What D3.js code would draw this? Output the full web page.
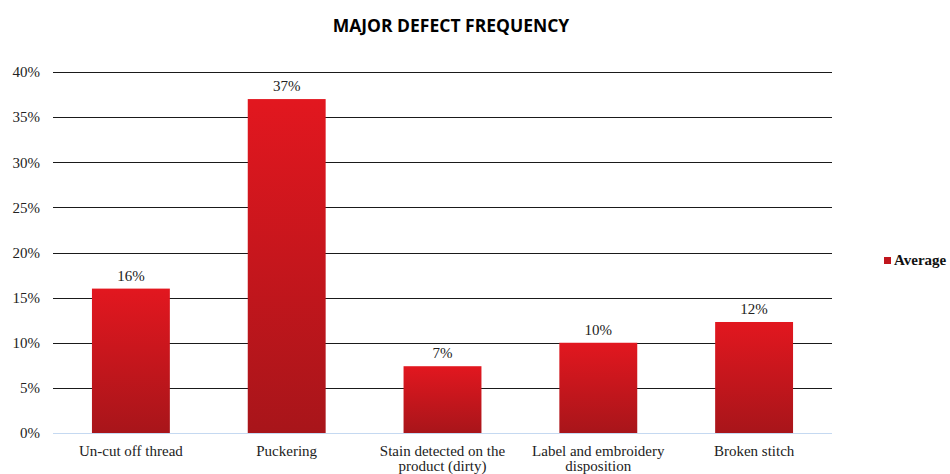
<!DOCTYPE html>
<html><head><meta charset="utf-8">
<script src="https://cdn.jsdelivr.net/npm/d3@7"></script>
<style>body{margin:0;background:#fff}svg{display:block}.serif{font-family:"Liberation Serif","DejaVu Serif",serif}</style>
</head><body><svg id="c" width="950" height="474"></svg>
<script>
const categories = [["Un-cut off thread"], ["Puckering"], ["Stain detected on the", "product (dirty)"], ["Label and embroidery", "disposition"], ["Broken stitch"]];
const values = [0.16, 0.37, 0.074, 0.10, 0.123];
const yTicks = [0, 0.05, 0.10, 0.15, 0.20, 0.25, 0.30, 0.35, 0.40];
const seriesName = "Average";
const title = "MAJOR DEFECT FREQUENCY";

const svg = d3.select("#c");
const m = {l:53, r:118, t:72, b:41};
const W = 950, H = 474;
const x = d3.scaleBand().domain(d3.range(values.length)).range([m.l, W - m.r]).paddingInner(0.5).paddingOuter(0.25);
const y = d3.scaleLinear().domain([0, 0.40]).range([H - m.b, m.t]);

const defs = svg.append("defs");
const g = defs.append("linearGradient").attr("id","bg").attr("x1",0).attr("y1",0).attr("x2",0).attr("y2",1);
g.append("stop").attr("offset","0%").attr("stop-color","#e2171f");
g.append("stop").attr("offset","100%").attr("stop-color","#a8151a");

svg.append("text").attr("x", 451).attr("y", 32).attr("text-anchor","middle")
  .style("font-family","'Open Sans', sans-serif").attr("font-weight","bold").attr("font-size",17.5)
  .attr("fill","#000").text(title);

// grid
svg.append("g").selectAll("line").data(yTicks.filter(d=>d>0)).join("line")
  .attr("x1", m.l).attr("x2", W - m.r).attr("y1", d=>Math.round(y(d))+0.5).attr("y2", d=>Math.round(y(d))+0.5)
  .attr("stroke","#1a1a1a").attr("stroke-width",1);

// y axis labels
const yAxis = d3.axisLeft(y).tickValues(yTicks).tickFormat(d3.format(".0%")).tickSize(0).tickPadding(13);
const ya = svg.append("g").attr("transform",`translate(${m.l},0)`).call(yAxis);
ya.select(".domain").remove();
ya.attr("font-family", null).attr("font-size", null);
ya.selectAll("text").attr("class","serif").style("font-size","15px").attr("fill","#222");

// bars
svg.append("g").selectAll("rect").data(values).join("rect")
  .attr("x",(d,i)=>x(i)).attr("width",x.bandwidth())
  .attr("y",d=>y(d)).attr("height",d=>y(0)-y(d)).attr("fill","url(#bg)");

// baseline
svg.append("line").attr("x1",m.l).attr("x2",W-m.r).attr("y1",y(0)+0.5).attr("y2",y(0)+0.5).attr("stroke","#c5d9f1").attr("stroke-width",1);

// value labels
svg.append("g").selectAll("text").data(values).join("text").attr("class","serif")
  .attr("x",(d,i)=>x(i)+x.bandwidth()/2).attr("y",d=>y(d)-8).attr("text-anchor","middle")
  .style("font-size","15px").attr("fill","#222")
  .text(d=>d3.format(".0%")(d));

// category labels
const cl = svg.append("g").selectAll("text").data(categories).join("text").attr("class","serif")
  .attr("x",(d,i)=>x(i)+x.bandwidth()/2).attr("y", y(0)+23).attr("text-anchor","middle")
  .style("font-size","15px").attr("fill","#222");
cl.selectAll("tspan").data(d=>d).join("tspan")
  .attr("x",function(){return this.parentNode.getAttribute("x");}).attr("dy",(d,i)=>i===0?0:15).text(d=>d);

// legend
svg.append("rect").attr("x",884).attr("y",257).attr("width",7).attr("height",7).attr("fill","#c0161d");
svg.append("text").attr("class","serif").attr("x",894).attr("y",265)
  .attr("font-weight","bold").style("font-size","15px").attr("fill","#111").text(seriesName);
</script></body></html>
